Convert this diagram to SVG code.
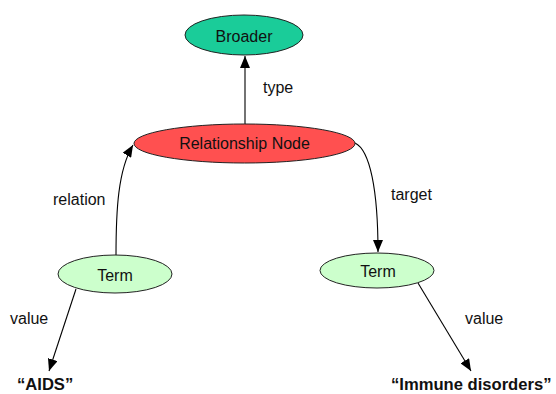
<svg xmlns="http://www.w3.org/2000/svg" width="556" height="394" viewBox="0 0 556 394">
<style>
text{font-family:"Liberation Sans",Arial,sans-serif;font-size:16px;fill:#111}
.c{text-anchor:middle}
.b{font-weight:bold;font-size:16.6px}
.n{stroke:#222;stroke-width:1}
.e{fill:none;stroke:#000;stroke-width:1.1;marker-end:url(#ah)}
</style>
<defs>
<marker id="ah" markerUnits="userSpaceOnUse" markerWidth="13" markerHeight="10" refX="12" refY="5" orient="auto">
<path d="M0,0 L12,5 L0,10 z" fill="#000"/>
</marker>
</defs>
<rect width="556" height="394" fill="#fff"/>
<g id="connectors">
<path class="e" d="M245,125 L245,56"/>
<path class="e" d="M116,256 C116,210 118,170 133,145"/>
<path class="e" d="M355,143 C370,150 378,190 378,252"/>
<path class="e" d="M76,289 L49,371"/>
<path class="e" d="M418,283 L471,371"/>
</g>
<g id="broader">
<ellipse class="n" cx="244" cy="35" rx="59" ry="20" fill="#1ACC99"/>
<text class="c" x="244" y="41.5">Broader</text>
</g>
<g id="relationship">
<ellipse class="n" cx="244.5" cy="143.5" rx="110.5" ry="19.5" fill="#FF5050"/>
<text class="c" x="244.5" y="149">Relationship Node</text>
</g>
<g id="term-left">
<ellipse class="n" cx="115" cy="274" rx="57" ry="19" fill="#CCFFCC"/>
<text class="c" x="115" y="281">Term</text>
</g>
<g id="term-right">
<ellipse class="n" cx="377" cy="270.5" rx="57" ry="17.5" fill="#CCFFCC"/>
<text class="c" x="378" y="277">Term</text>
</g>
<g id="labels">
<text x="263" y="93">type</text>
<text x="53" y="205">relation</text>
<text x="391" y="200">target</text>
<text x="10" y="324">value</text>
<text x="465" y="324">value</text>
</g>
<g id="value-aids">
<text class="b" x="17" y="390">“AIDS”</text>
</g>
<g id="value-immune">
<text class="b" x="391" y="390">“Immune disorders”</text>
</g>
</svg>
